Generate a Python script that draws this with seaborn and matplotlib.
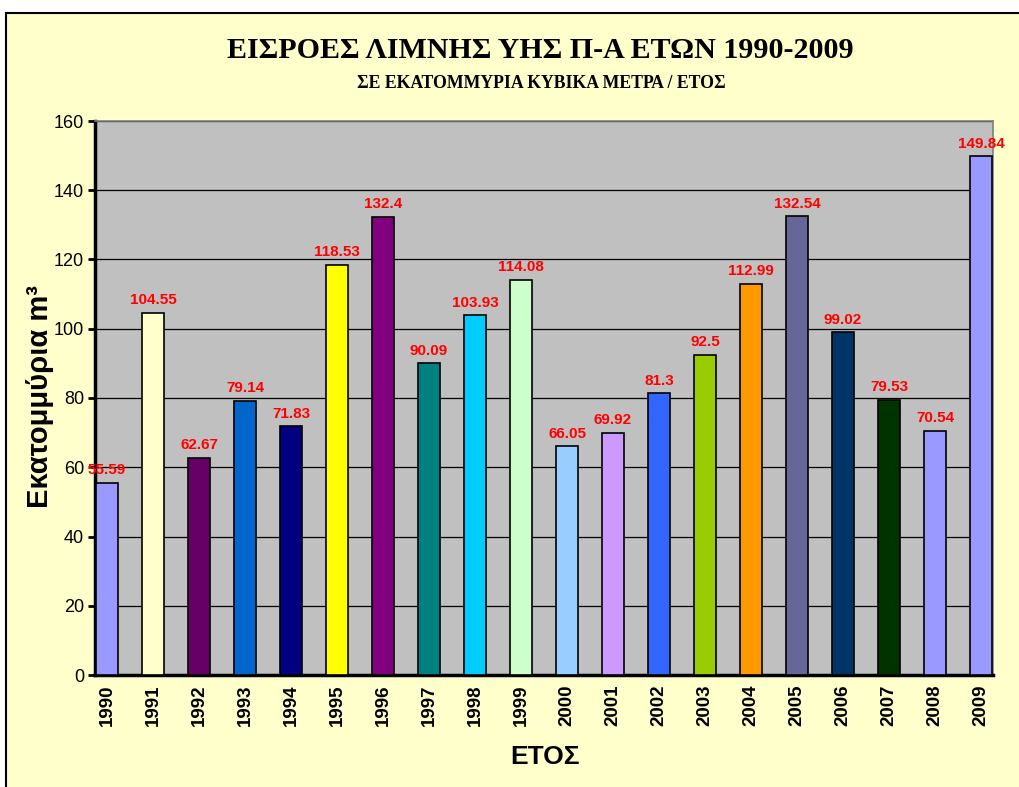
import matplotlib
matplotlib.use("Agg")
import matplotlib.pyplot as plt
import seaborn as sns
import pandas as pd
from matplotlib.patches import Rectangle

years = ["1990", "1991", "1992", "1993", "1994", "1995", "1996", "1997", "1998", "1999",
         "2000", "2001", "2002", "2003", "2004", "2005", "2006", "2007", "2008", "2009"]
inflows = [55.59, 104.55, 62.67, 79.14, 71.83, 118.53, 132.4, 90.09, 103.93, 114.08,
           66.05, 69.92, 81.3, 92.5, 112.99, 132.54, 99.02, 79.53, 70.54, 149.84]
bar_colors = ["#9999FF", "#FFFFCC", "#660066", "#0066CC", "#000080", "#FFFF00", "#800080",
              "#008080", "#00CCFF", "#CCFFCC", "#99CCFF", "#CC99FF", "#3366FF", "#99CC00",
              "#FF9900", "#666699", "#003366", "#003300", "#9999FF", "#9999FF"]
yticks = [0, 20, 40, 60, 80, 100, 120, 140, 160]

title = "ΕΙΣΡΟΕΣ ΛΙΜΝΗΣ ΥΗΣ Π-Α ΕΤΩΝ 1990-2009"
subtitle = "ΣΕ ΕΚΑΤΟΜΜΥΡΙΑ ΚΥΒΙΚΑ ΜΕΤΡΑ / ΕΤΟΣ"
ylabel = "Εκατομμύρια m³"
xlabel = "ΕΤΟΣ"

sns.set_theme(style="white")
plt.rcParams["font.family"] = ["Liberation Sans", "DejaVu Sans"]
plt.rcParams["text.color"] = "black"
plt.rcParams["xtick.color"] = "black"
plt.rcParams["ytick.color"] = "black"
plt.rcParams["axes.labelcolor"] = "black"

W, H = 1019, 787
fig = plt.figure(figsize=(W / 100, H / 100), dpi=100)
fig.patch.set_facecolor("white")
fig.patches.append(Rectangle((6 / W, -0.05), 1.1, 1 - 13 / H + 0.05, transform=fig.transFigure,
                             facecolor="#FFFFCC", edgecolor="black", linewidth=1.5, zorder=-10))

ax = fig.add_axes([95 / W, 1 - 675 / H, (993 - 95) / W, (675 - 121) / H])
ax.set_facecolor("#C0C0C0")

df = pd.DataFrame({"year": years, "value": inflows})
sns.barplot(data=df, x="year", y="value", hue="year", palette=bar_colors, legend=False,
            width=0.48, edgecolor="black", linewidth=1.2, ax=ax, zorder=3, saturation=1)

ax.set_xlim(-0.26, 19.26)
ax.set_ylim(0, 160)
ax.set_yticks(yticks)
ax.yaxis.grid(True, color="black", linewidth=0.9, zorder=0)
ax.set_axisbelow(True)

for i, v in enumerate(inflows):
    ax.annotate(f"{v:g}", (i, v), xytext=(0, 4), textcoords="offset points",
                ha="center", va="bottom", color="#FF0000", fontweight="bold", fontsize=11)

ax.tick_params(axis="y", which="both", left=True, direction="out", length=5, width=2,
               color="black", labelsize=13, pad=3, labelcolor="black")
ax.tick_params(axis="x", bottom=False, labelsize=13.5, pad=1, labelcolor="black")
for lab in ax.get_xticklabels():
    lab.set_rotation(90)
    lab.set_fontweight("bold")
ax.set_xlabel("")
ax.set_ylabel("")

for s in ["left", "bottom"]:
    ax.spines[s].set_color("black")
    ax.spines[s].set_linewidth(2.5)
for s in ["top", "right"]:
    ax.spines[s].set_color("#808080")
    ax.spines[s].set_linewidth(1.2)

fig.text(540 / W, 1 - 50 / H, title, ha="center", va="center", fontsize=21.6,
         fontweight="bold", family=["Liberation Serif", "DejaVu Serif"], color="black")
fig.text(541 / W, 1 - 83 / H, subtitle, ha="center", va="center", fontsize=12.8,
         fontweight="bold", family=["Liberation Serif", "DejaVu Serif"], color="black")
fig.text(40 / W, 1 - 397 / H, ylabel, ha="center", va="center", rotation=90,
         fontsize=21, fontweight="bold", color="black")
fig.text(545 / W, 1 - 757 / H, xlabel, ha="center", va="center",
         fontsize=19, fontweight="bold", color="black")

fig.savefig("out.png", dpi=100, facecolor=fig.get_facecolor())
